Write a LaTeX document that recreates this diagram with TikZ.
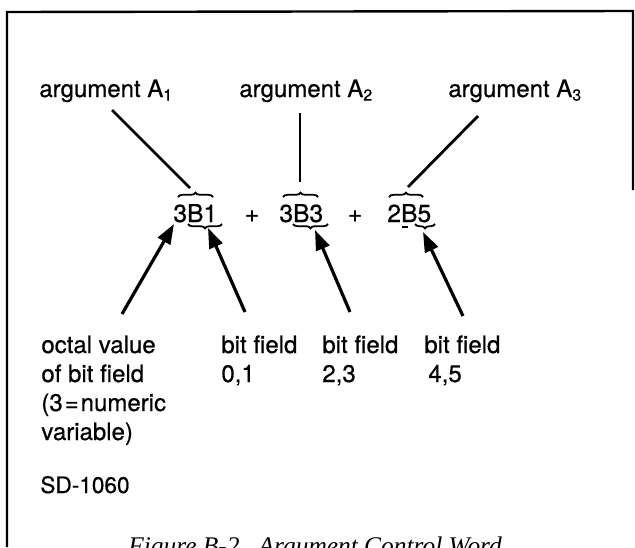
\documentclass[tikz,border=0pt]{standalone}
\usepackage{fontspec}
\setmainfont{TeX Gyre Heros}[FakeBold=0.6]
\newfontfamily\capfont{Liberation Serif}
\usetikzlibrary{arrows.meta,decorations.pathreplacing}
\begin{document}
\begin{tikzpicture}[x=0.5pt,y=-0.5pt,
  lbl/.style={anchor=base west,inner sep=0pt,font=\fontsize{12}{14}\selectfont},
  expr/.style={anchor=base west,inner sep=0pt,font=\fontsize{12.3}{14}\selectfont},
  plus/.style={anchor=base,inner sep=0pt,font=\fontsize{12.3}{14}\selectfont},
  framestyle/.style={line width=1.2pt},
  conn/.style={line width=1.4pt},
  ptr/.style={line width=1.6pt,-{Triangle[length=10pt,width=7pt]}},
  obr/.style={line width=0.9pt,decorate,decoration={brace,amplitude=2.2pt}},
  ubr/.style={line width=0.9pt,decorate,decoration={brace,amplitude=2.2pt,mirror}}]
\useasboundingbox (0,0) rectangle (635,547);
% frame
\coordinate (fbl) at (7,547);
\coordinate (ftl) at (7,12);
\coordinate (ftr) at (633,11);
\coordinate (fbr) at (633,190);
\draw[framestyle] (fbl) -- (ftl) -- (ftr) -- (fbr);
% top labels
\node[lbl] (a1) at (39,97) {argument A\textsubscript{1}};
\node[lbl] (a2) at (239,97) {argument A\textsubscript{2}};
\node[lbl] (a3) at (448,97) {argument A\textsubscript{3}};
% expression
\node[expr] (e1) at (173,222) {3B1};
\node[plus] (p1) at (252,222) {+};
\node[expr] (e2) at (279,222) {3B3};
\node[plus] (p2) at (355,222) {+};
\node[expr] (e3) at (387,222) {2B5};
% braces
\coordinate (ob1l) at (178,197); \coordinate (ob1r) at (213,197);
\coordinate (ob2l) at (283,197); \coordinate (ob2r) at (318,197);
\coordinate (ob3l) at (389,197); \coordinate (ob3r) at (423,197);
\draw[obr] (ob1l) -- (ob1r);
\draw[obr] (ob2l) -- (ob2r);
\draw[obr] (ob3l) -- (ob3r);
\coordinate (ub1l) at (188,224); \coordinate (ub1r) at (222,224);
\coordinate (ub2l) at (293,224); \coordinate (ub2r) at (328,224);
\coordinate (ub3l) at (415,224); \coordinate (ub3r) at (435,224);
\draw[ubr] (ub1l) -- (ub1r);
\draw[ubr] (ub2l) -- (ub2r);
\draw[ubr] (ub3l) -- (ub3r);
\coordinate (dsl) at (402,227); \coordinate (dsr) at (408,227);
\draw[line width=1pt] (dsl) -- (dsr);
% connectors from top labels
\coordinate (c1s) at (112,110); \coordinate (c1e) at (190,188);
\coordinate (c2s) at (300,113); \coordinate (c2e) at (300,182);
\coordinate (c3s) at (478,116); \coordinate (c3e) at (408,187);
\draw[conn] (c1s) -- (c1e);
\draw[conn] (c2s) -- (c2e);
\draw[conn] (c3s) -- (c3e);
% bottom labels
\node[lbl] (o1) at (41,353) {octal value};
\node[lbl] (o2) at (41,382) {of bit field};
\node[lbl] (o3) at (41,411) {(3\kern1pt=\kern1pt numeric};
\node[lbl] (o4) at (41,440) {variable)};
\node[lbl] (b1) at (221,353) {bit field};
\node[lbl] (b1n) at (221,382) {0,1};
\node[lbl] (b2) at (322,353) {bit field};
\node[lbl] (b2n) at (322,382) {2,3};
\node[lbl] (b3) at (424,353) {bit field};
\node[lbl] (b3n) at (428,382) {4,5};
% arrows
\coordinate (r1s) at (122,314); \coordinate (r1e) at (174,224);
\coordinate (r2s) at (245,312); \coordinate (r2e) at (208,228);
\coordinate (r3s) at (350,312); \coordinate (r3e) at (315,230);
\coordinate (r4s) at (463,316); \coordinate (r4e) at (423,232);
\draw[ptr] (r1s) -- (r1e);
\draw[ptr] (r2s) -- (r2e);
\draw[ptr] (r3s) -- (r3e);
\draw[ptr] (r4s) -- (r4e);
% id and caption
\node[lbl,font=\fontsize{11.3}{13}\selectfont] (sd) at (40,493) {SD-1060};
\node[anchor=base west,inner sep=0pt,font=\capfont\itshape\fontsize{12.7}{15}\selectfont] (cap) at (128,554) {Figure B-2.\ \ Argument Control Word};
\end{tikzpicture}
\end{document}
